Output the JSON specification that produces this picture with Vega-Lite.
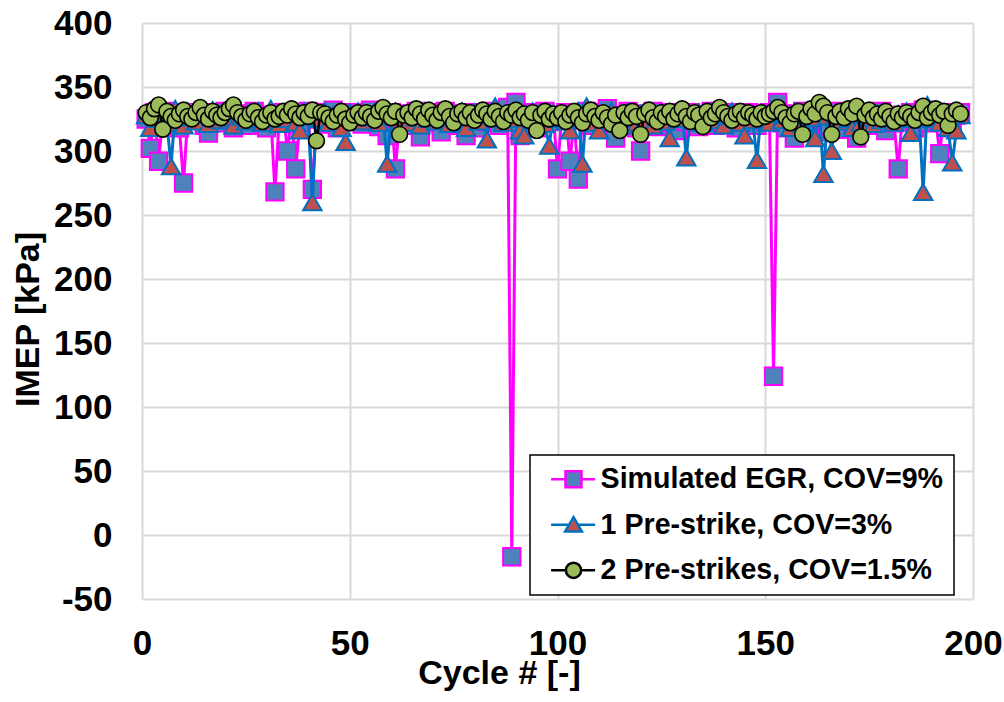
{
  "$schema": "https://vega.github.io/schema/vega-lite/v6.json",
  "width": 831,
  "height": 576,
  "autosize": {"type": "none"},
  "padding": {"left": 142, "top": 23, "right": 31, "bottom": 103},
  "background": "white",
  "config": {
    "view": {"stroke": null},
    "axis": {
      "labelFont": "Liberation Sans", "labelFontWeight": "bold", "labelFontSize": 35, "labelColor": "black",
      "titleFont": "Liberation Sans", "titleFontWeight": "bold", "titleFontSize": 34, "titleColor": "black",
      "gridColor": "#D9D9D9", "gridWidth": 2, "domain": false, "ticks": false, "tickSize": 0
    }
  },
  "data": {"values": [
    {"c":1,"e":325,"p":328,"q":330},{"c":2,"e":302,"p":318,"q":326},{"c":3,"e":330,"p":332,"q":333},{"c":4,"e":292,"p":325,"q":336},{"c":5,"e":326,"p":330,"q":317},
    {"c":6,"e":331,"p":322,"q":331},{"c":7,"e":322,"p":288,"q":327},{"c":8,"e":328,"p":333,"q":324},{"c":9,"e":318,"p":327,"q":329},{"c":10,"e":275,"p":320,"q":332},
    {"c":11,"e":327,"p":331,"q":327},{"c":12,"e":330,"p":326,"q":325},{"c":13,"e":324,"p":323,"q":330},{"c":14,"e":329,"p":330,"q":334},{"c":15,"e":320,"p":328,"q":328},
    {"c":16,"e":314,"p":321,"q":325},{"c":17,"e":330,"p":332,"q":331},{"c":18,"e":326,"p":327,"q":328},{"c":19,"e":322,"p":324,"q":326},{"c":20,"e":331,"p":330,"q":330},
    {"c":21,"e":325,"p":326,"q":333},{"c":22,"e":318,"p":320,"q":336},{"c":23,"e":329,"p":331,"q":330},{"c":24,"e":323,"p":327,"q":327},{"c":25,"e":327,"p":323,"q":324},
    {"c":26,"e":320,"p":329,"q":329},{"c":27,"e":331,"p":325,"q":331},{"c":28,"e":326,"p":331,"q":326},{"c":29,"e":322,"p":322,"q":323},{"c":30,"e":318,"p":328,"q":328},
    {"c":31,"e":328,"p":333,"q":330},{"c":32,"e":268,"p":326,"q":325},{"c":33,"e":324,"p":321,"q":327},{"c":34,"e":330,"p":329,"q":331},{"c":35,"e":300,"p":325,"q":328},
    {"c":36,"e":327,"p":330,"q":333},{"c":37,"e":286,"p":322,"q":329},{"c":38,"e":322,"p":316,"q":326},{"c":39,"e":329,"p":331,"q":330},{"c":40,"e":331,"p":327,"q":327},
    {"c":41,"e":270,"p":260,"q":332},{"c":42,"e":325,"p":329,"q":308},{"c":43,"e":330,"p":325,"q":330},{"c":44,"e":321,"p":331,"q":329},{"c":45,"e":327,"p":322,"q":326},
    {"c":46,"e":332,"p":328,"q":323},{"c":47,"e":318,"p":326,"q":328},{"c":48,"e":326,"p":318,"q":331},{"c":49,"e":329,"p":307,"q":325},{"c":50,"e":323,"p":330,"q":322},
    {"c":51,"e":330,"p":325,"q":328},{"c":52,"e":325,"p":331,"q":330},{"c":53,"e":321,"p":323,"q":326},{"c":54,"e":328,"p":328,"q":330},{"c":55,"e":332,"p":326,"q":327},
    {"c":56,"e":324,"p":330,"q":324},{"c":57,"e":319,"p":322,"q":331},{"c":58,"e":327,"p":329,"q":334},{"c":59,"e":312,"p":290,"q":329},{"c":60,"e":330,"p":327,"q":326},
    {"c":61,"e":286,"p":331,"q":331},{"c":62,"e":325,"p":324,"q":313},{"c":63,"e":329,"p":329,"q":328},{"c":64,"e":320,"p":322,"q":330},{"c":65,"e":327,"p":330,"q":326},
    {"c":66,"e":331,"p":326,"q":333},{"c":67,"e":311,"p":320,"q":329},{"c":68,"e":326,"p":331,"q":325},{"c":69,"e":330,"p":325,"q":332},{"c":70,"e":322,"p":328,"q":328},
    {"c":71,"e":328,"p":323,"q":324},{"c":72,"e":315,"p":330,"q":330},{"c":73,"e":331,"p":326,"q":333},{"c":74,"e":324,"p":321,"q":327},{"c":75,"e":329,"p":329,"q":322},
    {"c":76,"e":320,"p":324,"q":329},{"c":77,"e":327,"p":331,"q":331},{"c":78,"e":312,"p":318,"q":326},{"c":79,"e":330,"p":327,"q":330},{"c":80,"e":325,"p":330,"q":324},
    {"c":81,"e":318,"p":323,"q":328},{"c":82,"e":329,"p":328,"q":332},{"c":83,"e":323,"p":309,"q":329},{"c":84,"e":331,"p":330,"q":325},{"c":85,"e":326,"p":335,"q":331},
    {"c":86,"e":320,"p":326,"q":327},{"c":87,"e":329,"p":322,"q":323},{"c":88,"e":334,"p":329,"q":330},{"c":89,"e":-17,"p":325,"q":328},{"c":90,"e":338,"p":330,"q":332},
    {"c":91,"e":312,"p":316,"q":326},{"c":92,"e":327,"p":312,"q":329},{"c":93,"e":322,"p":327,"q":324},{"c":94,"e":330,"p":331,"q":330},{"c":95,"e":318,"p":324,"q":316},
    {"c":96,"e":326,"p":328,"q":328},{"c":97,"e":331,"p":321,"q":331},{"c":98,"e":323,"p":304,"q":325},{"c":99,"e":328,"p":329,"q":329},{"c":100,"e":286,"p":325,"q":326},
    {"c":101,"e":326,"p":330,"q":330},{"c":102,"e":330,"p":323,"q":323},{"c":103,"e":292,"p":316,"q":328},{"c":104,"e":325,"p":328,"q":331},{"c":105,"e":278,"p":331,"q":326},
    {"c":106,"e":327,"p":290,"q":322},{"c":107,"e":331,"p":335,"q":329},{"c":108,"e":320,"p":326,"q":332},{"c":109,"e":326,"p":322,"q":327},{"c":110,"e":330,"p":316,"q":324},
    {"c":111,"e":318,"p":329,"q":330},{"c":112,"e":333,"p":325,"q":326},{"c":113,"e":324,"p":331,"q":321},{"c":114,"e":310,"p":323,"q":328},{"c":115,"e":328,"p":328,"q":316},
    {"c":116,"e":322,"p":320,"q":330},{"c":117,"e":331,"p":330,"q":326},{"c":118,"e":326,"p":326,"q":331},{"c":119,"e":318,"p":322,"q":327},{"c":120,"e":300,"p":329,"q":313},
    {"c":121,"e":329,"p":324,"q":329},{"c":122,"e":324,"p":331,"q":332},{"c":123,"e":331,"p":320,"q":326},{"c":124,"e":319,"p":327,"q":323},{"c":125,"e":327,"p":330,"q":330},
    {"c":126,"e":322,"p":323,"q":327},{"c":127,"e":330,"p":310,"q":331},{"c":128,"e":325,"p":329,"q":325},{"c":129,"e":316,"p":325,"q":329},{"c":130,"e":328,"p":331,"q":333},
    {"c":131,"e":323,"p":295,"q":327},{"c":132,"e":330,"p":328,"q":323},{"c":133,"e":326,"p":324,"q":330},{"c":134,"e":319,"p":330,"q":328},{"c":135,"e":328,"p":322,"q":319},
    {"c":136,"e":324,"p":327,"q":331},{"c":137,"e":331,"p":331,"q":326},{"c":138,"e":320,"p":324,"q":329},{"c":139,"e":327,"p":329,"q":334},{"c":140,"e":322,"p":320,"q":330},
    {"c":141,"e":330,"p":327,"q":327},{"c":142,"e":325,"p":331,"q":324},{"c":143,"e":318,"p":325,"q":329},{"c":144,"e":328,"p":322,"q":331},{"c":145,"e":323,"p":312,"q":326},
    {"c":146,"e":330,"p":328,"q":330},{"c":147,"e":326,"p":324,"q":328},{"c":148,"e":320,"p":293,"q":325},{"c":149,"e":329,"p":330,"q":330},{"c":150,"e":324,"p":326,"q":327},
    {"c":151,"e":330,"p":322,"q":329},{"c":152,"e":124,"p":329,"q":331},{"c":153,"e":338,"p":330,"q":334},{"c":154,"e":322,"p":324,"q":330},{"c":155,"e":318,"p":328,"q":326},
    {"c":156,"e":329,"p":318,"q":322},{"c":157,"e":310,"p":330,"q":329},{"c":158,"e":326,"p":325,"q":331},{"c":159,"e":331,"p":321,"q":313},{"c":160,"e":321,"p":329,"q":327},
    {"c":161,"e":328,"p":326,"q":333},{"c":162,"e":315,"p":310,"q":329},{"c":163,"e":330,"p":331,"q":338},{"c":164,"e":325,"p":282,"q":335},{"c":165,"e":320,"p":327,"q":330},
    {"c":166,"e":328,"p":300,"q":313},{"c":167,"e":323,"p":329,"q":327},{"c":168,"e":331,"p":323,"q":331},{"c":169,"e":317,"p":330,"q":326},{"c":170,"e":327,"p":325,"q":333},
    {"c":171,"e":322,"p":318,"q":329},{"c":172,"e":310,"p":328,"q":335},{"c":173,"e":328,"p":322,"q":311},{"c":174,"e":325,"p":330,"q":328},{"c":175,"e":330,"p":326,"q":332},
    {"c":176,"e":320,"p":321,"q":326},{"c":177,"e":327,"p":329,"q":329},{"c":178,"e":331,"p":324,"q":325},{"c":179,"e":316,"p":330,"q":331},{"c":180,"e":326,"p":327,"q":327},
    {"c":181,"e":322,"p":322,"q":323},{"c":182,"e":286,"p":329,"q":329},{"c":183,"e":328,"p":325,"q":326},{"c":184,"e":323,"p":331,"q":330},{"c":185,"e":330,"p":314,"q":327},
    {"c":186,"e":318,"p":327,"q":324},{"c":187,"e":327,"p":330,"q":330},{"c":188,"e":332,"p":268,"q":335},{"c":189,"e":322,"p":336,"q":326},{"c":190,"e":329,"p":325,"q":330},
    {"c":191,"e":325,"p":329,"q":333},{"c":192,"e":298,"p":322,"q":328},{"c":193,"e":330,"p":330,"q":331},{"c":194,"e":324,"p":318,"q":320},{"c":195,"e":318,"p":291,"q":329},
    {"c":196,"e":328,"p":316,"q":332},{"c":197,"e":330,"p":328,"q":329}
  ]},
  "transform": [{"fold": ["e", "p", "q"], "as": ["s", "v"]}],
  "encoding": {
    "x": {"field": "c", "type": "quantitative",
      "scale": {"domain": [0, 200], "nice": false},
      "axis": {"values": [0, 50, 100, 150, 200], "title": "Cycle # [-]", "labelBaseline": "alphabetic", "labelPadding": 55,
        "titleX": 357, "titleY": 84, "titleBaseline": "alphabetic", "titleAlign": "center", "labelFlush": false}},
    "y": {"field": "v", "type": "quantitative", "scale": {"domain": [-50, 400], "nice": false},
      "axis": {"values": [-50, 0, 50, 100, 150, 200, 250, 300, 350, 400], "title": "IMEP [kPa]", "labelPadding": 30,
        "labelExpr": "'' + datum.value",
        "titleX": -104, "titleY": 296, "titleBaseline": "alphabetic", "titleAlign": "center", "titleAngle": -90}},
    "stroke": {"field": "s", "type": "nominal", "scale": {"domain": ["e", "p", "q"], "range": ["#FF00FF", "#0070C0", "#000000"]}},
    "fill": {"field": "s", "type": "nominal",
      "scale": {"domain": ["e", "p", "q"], "range": ["#4F81BD", "#C0504D", "#9BBB59"]},
      "legend": {"title": null, "orient": "none", "legendX": 388, "legendY": 432,
        "fillColor": "white", "strokeColor": "black", "padding": 10, "rowPadding": 16.5,
        "symbolSize": 256, "symbolStrokeWidth": 2.5, "symbolOpacity": 1, "labelOffset": 32, "labelLimit": 600,
        "labelFont": "Liberation Sans", "labelFontWeight": "bold", "labelFontSize": 28.6, "labelColor": "black",
        "labelExpr": "datum.value == 'e' ? 'Simulated EGR, COV=9%' : datum.value == 'p' ? '1 Pre-strike, COV=3%' : '2 Pre-strikes, COV=1.5%'",
        "encode": {
          "legend": {"update": {"strokeWidth": {"value": 1.5}}},
          "symbols": {"update": {
          "shape": {"signal": "datum.value == 'e' ? 'M-0.4,0H1.4M3.4,0H5.1M1.4,-1H3.4V1H1.4Z' : datum.value == 'p' ? 'M-0.4,0H1.9M2.9,0H5.1M2.4,-0.95L3.45,0.85H1.35Z' : 'M-0.4,0H1.45M3.35,0H5.1M1.45,0A0.95,0.95 0 1,1 3.35,0A0.95,0.95 0 1,1 1.45,0Z'"},
          "stroke": {"signal": "datum.value == 'e' ? '#FF00FF' : datum.value == 'p' ? '#0070C0' : '#000000'"}
        }}}}}
  },
  "layer": [
    {"transform": [{"filter": "datum.s == 'e'"}],
     "mark": {"type": "line", "strokeWidth": 3},
     "encoding": {"fill": {"value": null}}},
    {"transform": [{"filter": "datum.s == 'e'"}],
     "mark": {"type": "point", "shape": "square", "filled": true, "opacity": 1, "size": 300, "strokeWidth": 2}},
    {"transform": [{"filter": "datum.s == 'p'"}],
     "mark": {"type": "line", "strokeWidth": 3},
     "encoding": {"fill": {"value": null}}},
    {"transform": [{"filter": "datum.s == 'p'"}],
     "mark": {"type": "point", "shape": "triangle-up", "filled": true, "opacity": 1, "size": 340, "strokeWidth": 2}},
    {"transform": [{"filter": "datum.s == 'q'"}],
     "mark": {"type": "line", "strokeWidth": 2.5},
     "encoding": {"fill": {"value": null}}},
    {"transform": [{"filter": "datum.s == 'q'"}],
     "mark": {"type": "point", "shape": "circle", "filled": true, "opacity": 1, "size": 250, "strokeWidth": 1.6}}
  ]
}
